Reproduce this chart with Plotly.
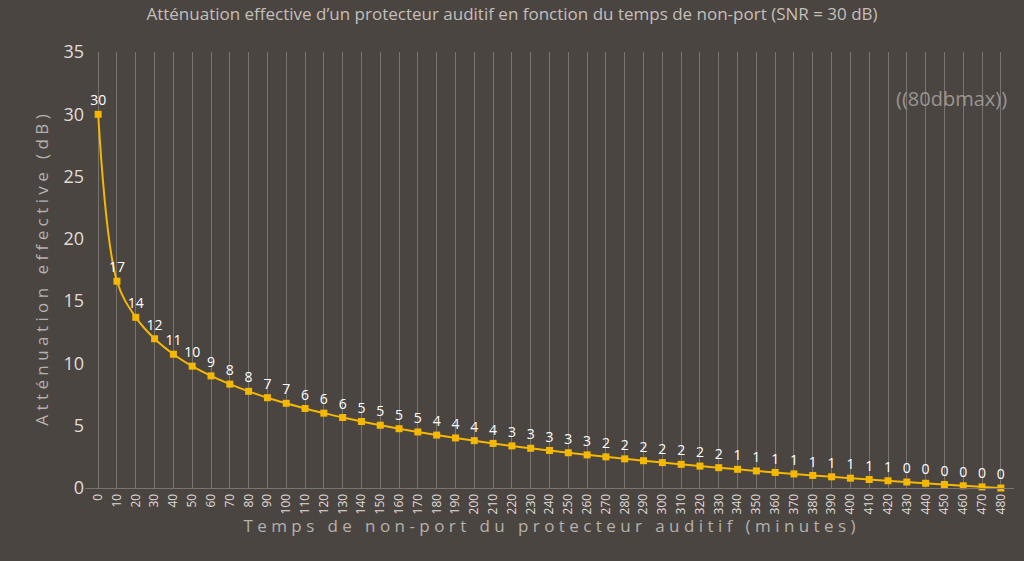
import plotly.graph_objects as go

minutes = list(range(0, 481, 10))
attenuation = [30, 16.6, 13.70, 11.98, 10.74, 9.78, 9.00, 8.34, 7.76, 7.25, 6.80, 6.38, 6.01, 5.66, 5.34,
               5.04, 4.76, 4.50, 4.25, 4.02, 3.80, 3.58, 3.38, 3.19, 3.01, 2.83, 2.66, 2.50, 2.34, 2.19,
               2.04, 1.90, 1.76, 1.63, 1.50, 1.37, 1.25, 1.13, 1.01, 0.90, 0.79, 0.68, 0.58, 0.48, 0.38,
               0.28, 0.18, 0.09, 0]
labels = ["30", "17", "14", "12", "11", "10", "9", "8", "8", "7", "7", "6", "6", "6", "5",
          "5", "5", "5", "4", "4", "4", "4", "3", "3", "3", "3", "3", "2", "2", "2",
          "2", "2", "2", "2", "1", "1", "1", "1", "1", "1", "1", "1", "1", "0", "0",
          "0", "0", "0", "0"]

fig = go.Figure(go.Scatter(
    x=minutes, y=attenuation, mode="lines+markers+text", text=labels,
    textposition="top center", textfont=dict(color="white", size=14),
    line=dict(color="#f5b800", width=2, shape="spline"),
    marker=dict(symbol="square", size=7, color="#f5b800"), cliponaxis=False))

fig.update_layout(
    width=1024, height=561, paper_bgcolor="#4a4541", plot_bgcolor="#4a4541",
    font=dict(family="Open Sans", color="#b5b0ab"),
    margin=dict(l=85, r=10, t=52, b=73), showlegend=False,
    title=dict(text="Atténuation effective d’un protecteur auditif en fonction du temps de non-port (SNR = 30 dB)",
               x=0.5, y=0.985, yanchor="top", font=dict(size=17, color="#c4bfba")),
    xaxis=dict(range=[-7, 487], tickvals=minutes, ticktext=[str(m) for m in minutes], tickangle=-90,
               showgrid=True, gridcolor="#7a7470", gridwidth=1, zeroline=False,
               tickfont=dict(size=12, color="#e0dcd8"),
               title=dict(text="T e m p s   d e   n o n - p o r t   d u   p r o t e c t e u r   a u d i t i f   ( m i n u t e s )",
                          font=dict(size=17, color="#b5b0ab"), standoff=6),
               showline=True, linecolor="#7a7470"),
    yaxis=dict(range=[0, 35], dtick=5, showgrid=False, zeroline=False,
               tickfont=dict(size=18, color="#e0dcd8"),
               title=dict(text="A t t é n u a t i o n   e f f e c t i v e   ( d B )",
                          font=dict(size=17, color="#b5b0ab"), standoff=10)),
    annotations=[dict(text="((80dbmax))", x=0.995, y=0.93, xref="paper", yref="paper",
                      xanchor="right", showarrow=False, font=dict(size=20, color="#9a948f"))])

fig.write_html("out.html", post_script="document.body.style.margin='0';",
               config={"displayModeBar": False})
